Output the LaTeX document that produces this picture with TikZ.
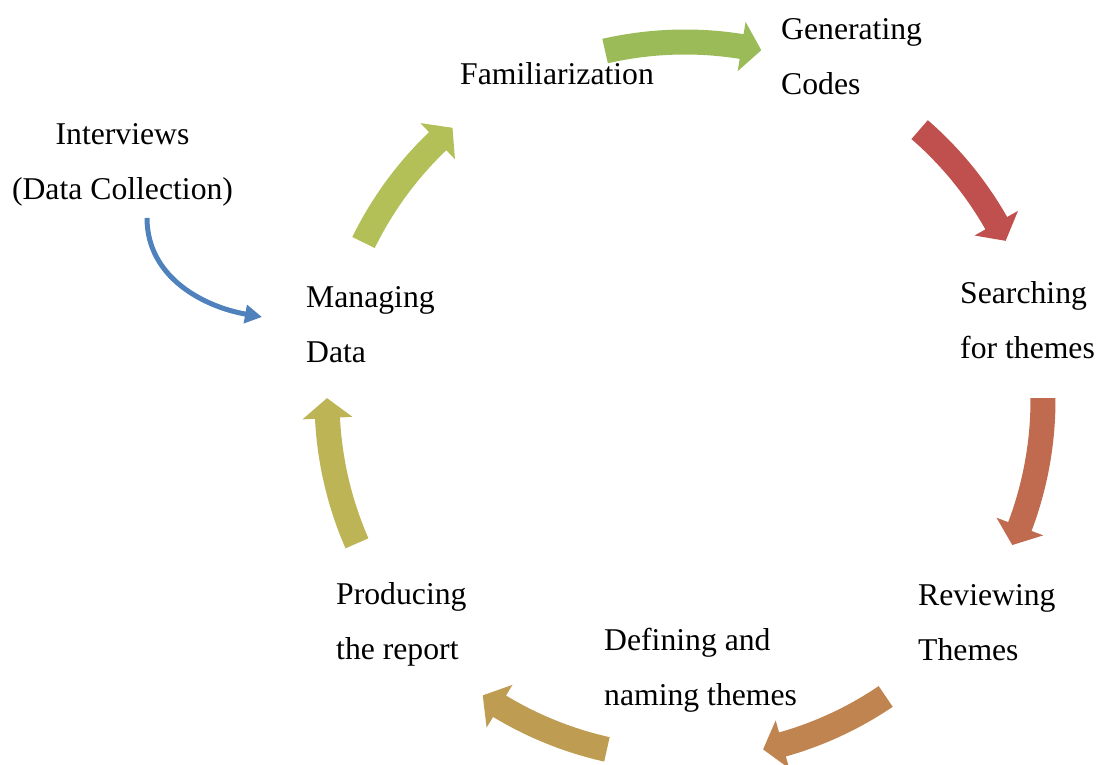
\documentclass[tikz,border=0pt]{standalone}
\usepackage{fontspec}
\setmainfont{Liberation Serif}
\usetikzlibrary{calc,arrows.meta}
\definecolor{cAa}{HTML}{B3BF57}
\definecolor{cAb}{HTML}{9BBB59}
\definecolor{cAc}{HTML}{C0504D}
\definecolor{cAd}{HTML}{C06A4F}
\definecolor{cAe}{HTML}{C08451}
\definecolor{cAf}{HTML}{BE9D53}
\definecolor{cAg}{HTML}{BDB456}
\definecolor{cBlue}{HTML}{4F81BD}
\newcommand{\cycarrow}[3]{%
  \pgfmathsetmacro{\hb}{#2+3.2}%
  \fill[#3] ($(C)+(#1:370.5pt)$) arc[start angle=#1,end angle=\hb,radius=370.5pt]
    -- ($(C)+(\hb:383pt)$) -- ($(C)+(#2:358pt)$) -- ($(C)+(\hb:333pt)$)
    -- ($(C)+(\hb:345.5pt)$) arc[start angle=\hb,end angle=#1,radius=345.5pt] -- cycle;}
\tikzset{
  lbl/.style={inner sep=0pt, align=left, anchor=base west,
    font=\fontsize{31.7pt}{55pt}\selectfont},
  bluearrow/.style={draw=cBlue, line width=5pt,
    -{Triangle[length=17pt,width=18pt]}}
}
\begin{document}
\begin{tikzpicture}[x=1pt,y=1pt]
\useasboundingbox (0,0) rectangle (1098,-765);
\coordinate (C) at (685,-400);
% cycle arrows
\cycarrow{153.9}{130.5}{cAa}
\cycarrow{102.9}{77.7}{cAb}
\cycarrow{49.05}{26.4}{cAc}
\cycarrow{0.3}{-23.9}{cAd}
\cycarrow{-55.9}{-77.4}{cAe}
\cycarrow{-102.6}{-124.4}{cAf}
\cycarrow{203.6}{179.7}{cAg}
% labels (base anchor = baseline of last line)
\node[lbl] (fam) at (460,-85) {Familiarization};
\node[lbl] (gen) at (781,-95) {Generating\\Codes};
\node[lbl] (search) at (960,-358) {Searching\\for themes};
\node[lbl] (review) at (918,-660) {Reviewing\\Themes};
\node[lbl] (define) at (604,-705) {Defining and\\naming themes};
\node[lbl] (produce) at (336,-659) {Producing\\the report};
\node[lbl] (manage) at (306,-362) {Managing\\Data};
\node[lbl, align=center, anchor=base] (interviews) at (122.5,-200) {Interviews\\(Data Collection)};
% blue arrow
\coordinate (bStart) at ($(interviews.south)+(24.5,-11)$);
\coordinate (bEnd) at ($(manage.base west)+(-44,45)$);
\draw[bluearrow] (bStart) to[out=-90,in=170] (bEnd);
\end{tikzpicture}
\end{document}
